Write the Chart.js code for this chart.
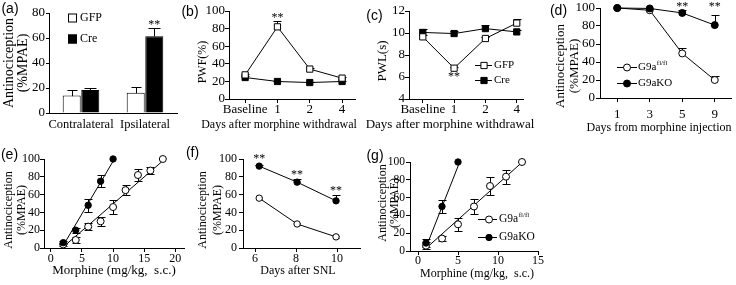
<!DOCTYPE html>
<html>
<head>
<meta charset="utf-8">
<script src="https://cdn.jsdelivr.net/npm/chart.js@4.4.1/dist/chart.umd.min.js"></script>
<style>
html,body{margin:0;padding:0;background:#fff;}
#wrap{position:relative;width:736px;height:285px;overflow:hidden;background:#fff;}
#wrap canvas{position:absolute;left:0;top:0;}
</style>
</head>
<body>
<div id="wrap">
<canvas id="pa" width="736" height="285"></canvas>
<canvas id="pb" width="736" height="285"></canvas>
<canvas id="pc" width="736" height="285"></canvas>
<canvas id="pd" width="736" height="285"></canvas>
<canvas id="pe" width="736" height="285"></canvas>
<canvas id="pf" width="736" height="285"></canvas>
<canvas id="pg" width="736" height="285"></canvas>
</div>
<script>
// ================= DATA =================
// (a) bar chart
const cat_a = ['Contralateral', 'Ipsilateral'];
const gfp_a = [14, 16.3];
const gfp_a_err = [4.5, 4.7];
const cre_a = [18.4, 61.5];
const cre_a_err = [1.3, 6.8];
const yticks_a = [0, 20, 40, 60, 80];
const star_a_val = [73];

// (b) PWF
const days_b = ['Baseline', '1', '2', '4'];
const pos_b = [0, 1, 2, 3];
const gfp_b = [27.4, 82, 34, 23.7];
const gfp_b_err = [1.5, 6.7, 1.5, 1.8];
const cre_b = [24.4, 19.9, 18.7, 19.9];
const cre_b_err = [1.2, 1, 1, 1];
const yticks_b = [0, 20, 40, 60, 80, 100];
const star_b_val = [96];

// (c) PWL
const days_c = ['Baseline', '1', '2', '4'];
const pos_c = [0, 1, 2, 3];
const gfp_c = [9.65, 6.8, 9.5, 10.9];
const gfp_c_err = [0.15, 0.1, 0.15, 0.4];
const cre_c = [10.05, 9.95, 10.4, 10.1];
const cre_c_err = [0.35, 0.2, 0.3, 0.15];
const yticks_c = [4, 6, 8, 10, 12];
const star_c_val = [6.25];

// (d) days from morphine injection
const days_d = ['1', '3', '5', '9'];
const pos_d = [0, 1, 2, 3];
const fl_d = [100, 97.5, 49.5, 20];
const fl_d_err = [0, 0, 5.5, 4.5];
const ko_d = [100, 99.5, 94.5, 81];
const ko_d_err = [0, 0, 3.5, 11];
const yticks_d = [0, 20, 40, 60, 80, 100];
const star_d_val = [104, 104];

// (e) dose-response
const dose_ko_e = [2, 4, 6, 8, 10];
const ko_e = [6, 20, 48, 75, 100];
const ko_e_err = [2, 3, 7, 7, 0];
const dose_fl_e = [2, 4, 6, 8, 10, 12, 14, 16, 18];
const fl_e = [4, 9, 24, 30, 46, 65, 82, 87, 100];
const fl_e_err = [2, 3, 4, 5, 8, 6, 7, 4, 0];
const fit_ko_e_x = [2, 10.3], fit_ko_e_y = [3, 101];
const fit_fl_e_x = [2.3, 18.5], fit_fl_e_y = [3, 101];
const xticks_e = [0, 5, 10, 15, 20];
const yticks_e = [0, 20, 40, 60, 80, 100];

// (f) days after SNL
const day_f = [6.2, 8.05, 9.95];
const ko_f = [92, 74, 53];
const ko_f_err = [1.5, 3.5, 6.5];
const fl_f = [56, 27, 12.5];
const fl_f_err = [1.5, 1.5, 1.5];
const xticks_f = [6, 8, 10];
const yticks_f = [0, 20, 40, 60, 80, 100];
const star_f_val = [103, 85, 67];

// (g) dose-response
const dose_ko_g = [1, 3, 5];
const ko_g = [9, 50, 100];
const ko_g_err = [5, 7, 0];
const dose_fl_g = [1, 3, 5, 7, 9, 11, 13];
const fl_g = [6, 14, 30, 50, 73, 83.5, 100];
const fl_g_err = [4, 3, 7, 8, 10, 8, 0];
const fit_ko_g_x = [1, 5.3], fit_ko_g_y = [4, 102];
const fit_fl_g_x = [1, 13.3], fit_fl_g_y = [3, 102];
const xticks_g = [0, 5, 10, 15];
const yticks_g = [0, 20, 40, 60, 80, 100];

// ================= HELPERS =================
const SERIF = "'Liberation Serif','Times New Roman',serif";
const SANS = "'Liberation Sans',Arial,sans-serif";
Chart.defaults.font.family = SERIF;
Chart.defaults.color = '#000';
const W = 736, H = 285;

function xy(xs, ys) { return ys.map((v, i) => ({x: xs[i], y: v})); }

function drawMarker(ctx, style, r, fill, x, y) {
  ctx.save(); ctx.fillStyle = fill; ctx.strokeStyle = '#000'; ctx.lineWidth = 1;
  ctx.beginPath();
  if (style === 'rect') { const s = r * Math.SQRT1_2; ctx.rect(x - s, y - s, 2 * s, 2 * s); }
  else ctx.arc(x, y, r, 0, Math.PI * 2);
  ctx.fill(); ctx.stroke(); ctx.restore();
}

const errorBars = {
  id: 'errorBars',
  beforeDatasetsDraw(chart) {
    const ctx = chart.ctx, ys = chart.scales.y;
    chart.data.datasets.forEach((ds, di) => {
      if (!ds.errors) return;
      const meta = chart.getDatasetMeta(di);
      ctx.save(); ctx.strokeStyle = '#000'; ctx.lineWidth = 1;
      meta.data.forEach((el, i) => {
        const e = ds.errors[i]; if (!e) return;
        const d = ds.data[i]; const v = (typeof d === 'object') ? d.y : d;
        const x = Math.round(el.x) + 0.5, cw = ds.capHalf || 4;
        const both = ds.errMode === 'both';
        const yT = Math.round(ys.getPixelForValue(v + e)) + 0.5;
        const yB = Math.round(ys.getPixelForValue(both ? v - e : v)) + 0.5;
        ctx.beginPath();
        ctx.moveTo(x, yB); ctx.lineTo(x, yT);
        ctx.moveTo(x - cw, yT); ctx.lineTo(x + cw, yT);
        if (both) { ctx.moveTo(x - cw, yB); ctx.lineTo(x + cw, yB); }
        ctx.stroke();
      });
      ctx.restore();
    });
  }
};

function starPlugin(dsIdx, ptIdx, vals, size) {
  return { id: 'stars', afterDatasetsDraw(chart) {
    const ctx = chart.ctx, ys = chart.scales.y;
    ctx.save(); ctx.fillStyle = '#000'; ctx.font = `${size}px ${SERIF}`;
    ctx.textAlign = 'center'; ctx.textBaseline = 'alphabetic';
    vals.forEach((v, k) => {
      const el = chart.getDatasetMeta(dsIdx[k]).data[ptIdx[k]];
      ctx.fillText('**', el.x, ys.getPixelForValue(v) + 0.5 * size);
    });
    ctx.restore();
  }};
}

function legendPlugin(items) {
  return { id: 'legendBox', afterDraw(chart) {
    const ctx = chart.ctx;
    items.forEach(it => {
      const ds = chart.data.datasets[it.ds];
      let tx;
      ctx.save(); ctx.strokeStyle = '#000'; ctx.lineWidth = 1;
      if (it.kind === 'box') {
        ctx.fillStyle = ds.backgroundColor;
        ctx.fillRect(it.x, it.y - it.s / 2, it.s, it.s);
        ctx.strokeRect(it.x + 0.5, it.y - it.s / 2 + 0.5, it.s - 1, it.s - 1);
        tx = it.x + it.s + it.gap;
      } else {
        ctx.beginPath(); ctx.moveTo(it.x, it.y + 0.5); ctx.lineTo(it.x + it.len, it.y + 0.5); ctx.stroke();
        drawMarker(ctx, ds.pointStyle, ds.pointRadius, ds.pointBackgroundColor, it.x + it.mx, it.y + 0.5);
        tx = it.x + it.len + it.gap;
      }
      ctx.fillStyle = '#000'; ctx.font = `${it.size}px ${SERIF}`;
      ctx.textBaseline = 'middle'; ctx.textAlign = 'left';
      ctx.fillText(it.text, tx, it.y);
      if (it.sup) {
        const w = ctx.measureText(it.text).width;
        ctx.font = `${it.supSize}px ${SERIF}`;
        ctx.fillText(it.sup, tx + w + 0.5, it.y - 4);
      }
      ctx.restore();
    });
  }};
}

function textPlugin(texts) {
  return { id: 'texts', afterDraw(chart) {
    const ctx = chart.ctx;
    texts.forEach(t => {
      ctx.save(); ctx.fillStyle = '#000';
      ctx.font = `${t.size}px ${t.family || SERIF}`;
      ctx.textAlign = 'center'; ctx.textBaseline = 'middle';
      ctx.translate(t.x, t.y);
      if (t.rot) ctx.rotate(-Math.PI / 2);
      const lines = Array.isArray(t.text) ? t.text : [t.text];
      lines.forEach((ln, k) => ctx.fillText(ln, 0, k * (t.lh || 0)));
      ctx.restore();
    });
  }};
}

function lineDs(data, errors, o) {
  return Object.assign({data, errors, borderColor: '#000', borderWidth: 1, tension: 0, clip: false,
    pointStyle: 'circle', pointRadius: 3.2, pointBackgroundColor: '#fff', pointBorderColor: '#000',
    pointBorderWidth: 1, errMode: 'up', capHalf: 4, showLine: true}, o);
}
function fitDs(data) {
  return {data, borderColor: '#000', borderWidth: 1, pointRadius: 0, showLine: true, tension: 0, clip: false};
}

function panel(id, cfg) {
  const a = cfg.area;
  const yW = 30, xH = 30;
  const xtl = cfg.xTickLen, ytl = cfg.yTickLen;
  const xs = cfg.xTickSize, ysz = cfg.yTickSize;
  const xpad = cfg.xLabelY - a.b - xtl - xs / 2;
  const ypad = a.l - ytl - cfg.yLabelRight;
  const xScale = {
    type: cfg.xType || 'linear',
    offset: cfg.xType === 'category',
    grid: {display: true, drawOnChartArea: false, drawTicks: xtl > 0, tickLength: xtl, color: '#000', lineWidth: 1},
    border: {display: true, color: '#000', width: 1},
    ticks: {color: '#000', font: {family: SERIF, size: xs, lineHeight: 1}, padding: xpad,
      maxRotation: 0, minRotation: 0, autoSkip: false, callback: (v, i) => cfg.xLabels[i]},
    afterFit: s => { s.height = xH; }
  };
  if (cfg.xType !== 'category') {
    xScale.min = cfg.xMin; xScale.max = cfg.xMax;
    xScale.afterBuildTicks = s => { s.ticks = cfg.xTickVals.map(v => ({value: v})); };
  }
  const yScale = {
    type: 'linear', min: cfg.yMin, max: cfg.yMax,
    grid: {display: true, drawOnChartArea: false, drawTicks: true, tickLength: ytl, color: '#000', lineWidth: 1},
    border: {display: true, color: '#000', width: 1},
    ticks: {color: '#000', font: {family: SERIF, size: ysz, lineHeight: 1}, padding: ypad, callback: v => String(v)},
    afterBuildTicks: s => { s.ticks = cfg.yTickVals.map(v => ({value: v})); },
    afterFit: s => { s.width = yW; }
  };
  return new Chart(document.getElementById(id), {
    type: cfg.type || 'line',
    data: {labels: cfg.labels, datasets: cfg.datasets},
    options: {
      responsive: false, maintainAspectRatio: false, animation: false, devicePixelRatio: 1, events: [],
      layout: {padding: {left: a.l - yW, top: a.t, right: W - a.r, bottom: H - a.b - xH}},
      scales: {x: xScale, y: yScale},
      plugins: {legend: {display: false}, tooltip: {enabled: false}}
    },
    plugins: [errorBars].concat(cfg.plugins || [])
  });
}

// ================= PANELS =================
// (a)
panel('pa', {
  type: 'bar', xType: 'category', labels: cat_a, xLabels: cat_a,
  area: {l: 49, t: 13, r: 177, b: 113},
  yMin: 0, yMax: 80, yTickVals: yticks_a,
  xTickLen: 0, xTickSize: 12.5, xLabelY: 125,
  yTickLen: 3, yTickSize: 13, yLabelRight: 45,
  datasets: [
    {label: 'GFP', data: gfp_a, errors: gfp_a_err, backgroundColor: '#fff', borderColor: '#000', borderWidth: 1,
     categoryPercentage: 0.58, barPercentage: 0.97, capHalf: 5},
    {label: 'Cre', data: cre_a, errors: cre_a_err, backgroundColor: '#000', borderColor: '#000', borderWidth: 1,
     categoryPercentage: 0.58, barPercentage: 0.97, capHalf: 6}
  ],
  plugins: [
    starPlugin([1], [1], star_a_val, 12),
    legendPlugin([
      {ds: 0, kind: 'box', x: 68, y: 18, s: 9, gap: 3, text: 'GFP', size: 12},
      {ds: 1, kind: 'box', x: 68, y: 39, s: 9, gap: 3, text: 'Cre', size: 12}
    ]),
    textPlugin([
      {text: ['Antinociception', '(%MPAE)'], x: 9, y: 63, rot: true, size: 14, lh: 14},
      {text: '(a)', x: 10, y: 9, size: 14, family: SANS}
    ])
  ]
});

// (b)
panel('pb', {
  area: {l: 229, t: 11, r: 355, b: 99},
  xMin: -0.5, xMax: 3.4, xTickVals: pos_b, xLabels: days_b,
  yMin: 0, yMax: 100, yTickVals: yticks_b,
  xTickLen: 4, xTickSize: 13, xLabelY: 110,
  yTickLen: 4, yTickSize: 13, yLabelRight: 225,
  datasets: [
    lineDs(xy(pos_b, gfp_b), gfp_b_err, {label: 'GFP', pointStyle: 'rect', pointRadius: 4.4, pointBackgroundColor: '#fff'}),
    lineDs(xy(pos_b, cre_b), cre_b_err, {label: 'Cre', pointStyle: 'rect', pointRadius: 4.4, pointBackgroundColor: '#000'})
  ],
  plugins: [
    starPlugin([0], [1], star_b_val, 12),
    textPlugin([
      {text: 'PWF(%)', x: 203, y: 62, rot: true, size: 12},
      {text: 'Days after morphine withdrawal', x: 279, y: 125, size: 12},
      {text: '(b)', x: 190, y: 12, size: 14, family: SANS}
    ])
  ]
});

// (c)
panel('pc', {
  area: {l: 409, t: 11, r: 523, b: 99},
  xMin: -0.44, xMax: 3.2, xTickVals: pos_c, xLabels: days_c,
  yMin: 4, yMax: 12, yTickVals: yticks_c,
  xTickLen: 4, xTickSize: 13, xLabelY: 110,
  yTickLen: 4, yTickSize: 13, yLabelRight: 405,
  datasets: [
    lineDs(xy(pos_c, gfp_c), gfp_c_err, {label: 'GFP', pointStyle: 'rect', pointRadius: 4.4, pointBackgroundColor: '#fff'}),
    lineDs(xy(pos_c, cre_c), cre_c_err, {label: 'Cre', pointStyle: 'rect', pointRadius: 4.4, pointBackgroundColor: '#000'})
  ],
  plugins: [
    starPlugin([0], [1], star_c_val, 12),
    legendPlugin([
      {ds: 0, kind: 'line', x: 475, y: 65, len: 17, mx: 9, gap: 2, text: 'GFP', size: 11},
      {ds: 1, kind: 'line', x: 475, y: 80, len: 17, mx: 9, gap: 2, text: 'Cre', size: 11}
    ]),
    textPlugin([
      {text: 'PWL(s)', x: 383, y: 61, rot: true, size: 13},
      {text: 'Days after morphine withdrawal', x: 450, y: 125, size: 13},
      {text: '(c)', x: 374.5, y: 16, size: 14, family: SANS}
    ])
  ]
});

// (d)
panel('pd', {
  area: {l: 600, t: 8, r: 733, b: 98},
  xMin: -0.53, xMax: 3.5, xTickVals: pos_d, xLabels: days_d,
  yMin: 0, yMax: 100, yTickVals: yticks_d,
  xTickLen: 4, xTickSize: 13, xLabelY: 115,
  yTickLen: 4, yTickSize: 13, yLabelRight: 595,
  datasets: [
    lineDs(xy(pos_d, ko_d), ko_d_err, {label: 'G9aKO', pointBackgroundColor: '#000', pointRadius: 3.5}),
    lineDs(xy(pos_d, fl_d), fl_d_err, {label: 'G9a fl/fl', pointBackgroundColor: '#fff', pointRadius: 3.5})
  ],
  plugins: [
    starPlugin([0, 0], [2, 3], star_d_val, 12),
    legendPlugin([
      {ds: 1, kind: 'line', x: 617, y: 67, len: 20, mx: 10, gap: 1, text: 'G9a', sup: 'fl/fl', size: 11, supSize: 7},
      {ds: 0, kind: 'line', x: 617, y: 83, len: 20, mx: 10, gap: 1, text: 'G9aKO', size: 11}
    ]),
    textPlugin([
      {text: ['Antinociception', '(%MPAE)'], x: 561, y: 66, rot: true, size: 13, lh: 14},
      {text: 'Days from morphine injection', x: 659, y: 128, size: 12},
      {text: '(d)', x: 558.5, y: 11, size: 14, family: SANS}
    ])
  ]
});

// (e)
panel('pe', {
  area: {l: 44, t: 159, r: 184, b: 248},
  xMin: -1.1, xMax: 21.4, xTickVals: xticks_e, xLabels: xticks_e.map(String),
  yMin: 0, yMax: 100, yTickVals: yticks_e,
  xTickLen: 4, xTickSize: 12, xLabelY: 259,
  yTickLen: 4, yTickSize: 12, yLabelRight: 40,
  datasets: [
    lineDs(xy(dose_ko_e, ko_e), ko_e_err, {label: 'G9aKO', pointBackgroundColor: '#000', showLine: false, errMode: 'both'}),
    lineDs(xy(dose_fl_e, fl_e), fl_e_err, {label: 'G9a fl/fl', pointBackgroundColor: '#fff', pointRadius: 3.5, showLine: false, errMode: 'both'}),
    fitDs(xy(fit_ko_e_x, fit_ko_e_y)),
    fitDs(xy(fit_fl_e_x, fit_fl_e_y))
  ],
  plugins: [
    textPlugin([
      {text: ['Antinociception', '(%MPAE)'], x: 9, y: 210, rot: true, size: 12, lh: 13},
      {text: 'Morphine (mg/kg,  s.c.)', x: 114, y: 271, size: 13},
      {text: '(e)', x: 9.5, y: 155, size: 14, family: SANS}
    ])
  ]
});

// (f)
panel('pf', {
  area: {l: 243, t: 159, r: 360, b: 248},
  xMin: 5.41, xMax: 11.12, xTickVals: xticks_f, xLabels: xticks_f.map(String),
  yMin: 0, yMax: 100, yTickVals: yticks_f,
  xTickLen: 4, xTickSize: 12, xLabelY: 259,
  yTickLen: 4, yTickSize: 12, yLabelRight: 237,
  datasets: [
    lineDs(xy(day_f, ko_f), ko_f_err, {label: 'G9aKO', pointBackgroundColor: '#000'}),
    lineDs(xy(day_f, fl_f), fl_f_err, {label: 'G9a fl/fl', pointBackgroundColor: '#fff', errMode: 'both', capHalf: 3})
  ],
  plugins: [
    starPlugin([0, 0, 0], [0, 1, 2], star_f_val, 12),
    textPlugin([
      {text: ['Antinociception', '(%MPAE)'], x: 203, y: 210, rot: true, size: 12, lh: 15},
      {text: 'Days after SNL', x: 298, y: 271, size: 12},
      {text: '(f)', x: 192.5, y: 153, size: 14, family: SANS}
    ])
  ]
});

// (g)
panel('pg', {
  area: {l: 410, t: 162, r: 538, b: 251},
  xMin: -1, xMax: 15, xTickVals: xticks_g, xLabels: xticks_g.map(String),
  yMin: 0, yMax: 100, yTickVals: yticks_g,
  xTickLen: 4, xTickSize: 12, xLabelY: 261,
  yTickLen: 4, yTickSize: 11.5, yLabelRight: 405,
  datasets: [
    lineDs(xy(dose_ko_g, ko_g), ko_g_err, {label: 'G9aKO', pointBackgroundColor: '#000', showLine: false, errMode: 'both'}),
    lineDs(xy(dose_fl_g, fl_g), fl_g_err, {label: 'G9a fl/fl', pointBackgroundColor: '#fff', pointRadius: 3.5, showLine: false, errMode: 'both'}),
    fitDs(xy(fit_ko_g_x, fit_ko_g_y)),
    fitDs(xy(fit_fl_g_x, fit_fl_g_y))
  ],
  plugins: [
    legendPlugin([
      {ds: 1, kind: 'line', x: 478, y: 219, len: 19, mx: 11, gap: 2, text: 'G9a', sup: 'fl/fl', size: 11.5, supSize: 7},
      {ds: 0, kind: 'line', x: 478, y: 237, len: 19, mx: 11, gap: 2, text: 'G9aKO', size: 11.5}
    ]),
    textPlugin([
      {text: ['Antinociception', '(%MPAE)'], x: 383, y: 203, rot: true, size: 12, lh: 12},
      {text: 'Morphine (mg/kg,  s.c.)', x: 477, y: 274, size: 12},
      {text: '(g)', x: 375, y: 156, size: 14, family: SANS}
    ])
  ]
});
</script>
</body>
</html>
